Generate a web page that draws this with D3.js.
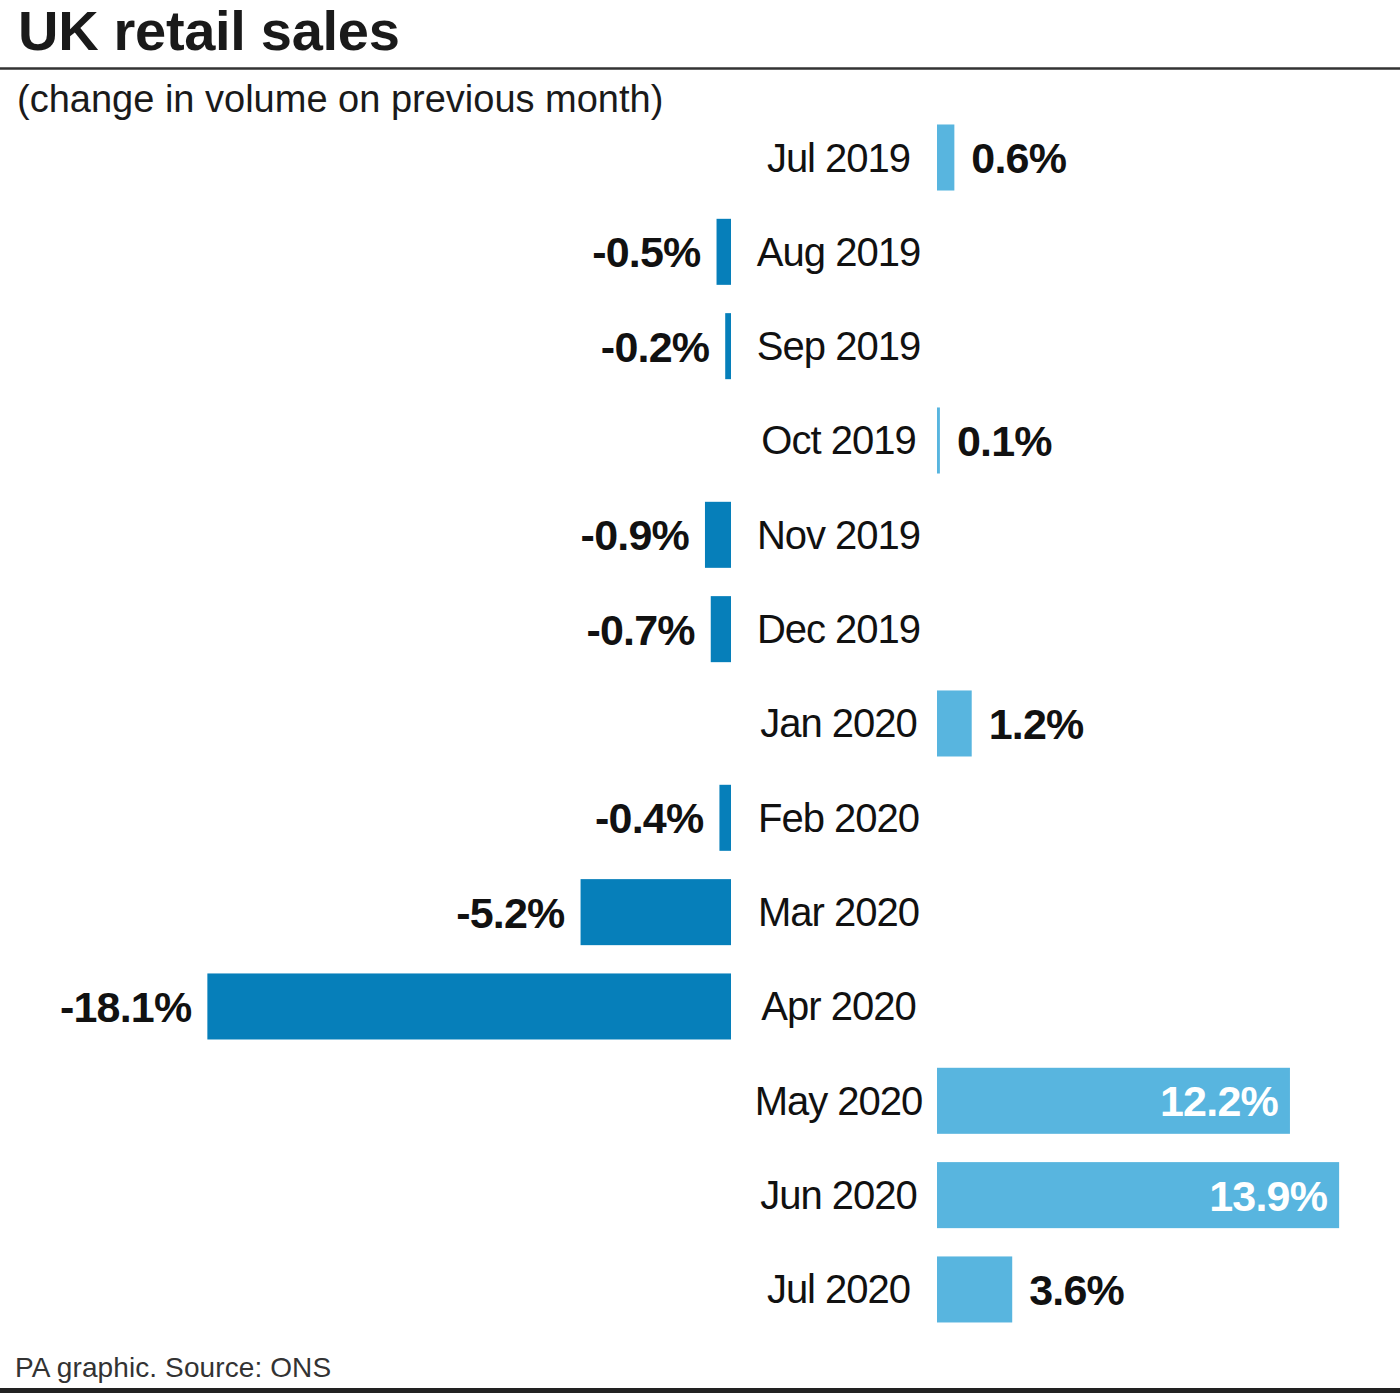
<!DOCTYPE html>
<html>
<head>
<meta charset="utf-8">
<script src="https://cdn.jsdelivr.net/npm/d3@7"></script>
<style>
  html, body { margin: 0; padding: 0; background: #fff; }
  svg { display: block; font-family: "Liberation Sans", Arial, Helvetica, sans-serif; }
</style>
</head>
<body>
<svg id="chart" width="1400" height="1393"></svg>
<script>
const title = "UK retail sales";
const subtitle = "(change in volume on previous month)";
const source = "PA graphic. Source: ONS";
const categories = ["Jul 2019","Aug 2019","Sep 2019","Oct 2019","Nov 2019","Dec 2019","Jan 2020","Feb 2020","Mar 2020","Apr 2020","May 2020","Jun 2020","Jul 2020"];
// bar lengths as drawn in the reference (Jul 2020 bar is drawn shorter than its label)
const values = [0.6, -0.5, -0.2, 0.1, -0.9, -0.7, 1.2, -0.4, -5.2, -18.1, 12.2, 13.9, 2.6];
// printed value labels
const valueLabels = ["0.6%","-0.5%","-0.2%","0.1%","-0.9%","-0.7%","1.2%","-0.4%","-5.2%","-18.1%","12.2%","13.9%","3.6%"];

const W = 1400, H = 1393;
const svg = d3.select("#chart");
const posColor = "#58b5df";
const negColor = "#067fba";

const pxPerUnit = 28.93;
const negZero = 731, posZero = 937;
const xNeg = d3.scaleLinear().domain([-20, 0]).range([negZero - 20 * pxPerUnit, negZero]);
const xPos = d3.scaleLinear().domain([0, 15]).range([posZero, posZero + 15 * pxPerUnit]);

const step = 94.33;
const y = d3.scaleBand()
  .domain(categories)
  .range([157.5 - step / 2, 157.5 - step / 2 + step * categories.length])
  .paddingInner(0.3)
  .paddingOuter(0.15);

// Title
svg.append("text").attr("x", 18).attr("y", 50)
  .attr("font-size", 56).attr("font-weight", "bold").attr("fill", "#1a1a1a")
  .attr("letter-spacing", -0.3)
  .text(title);
svg.append("line").attr("x1", 0).attr("x2", W).attr("y1", 68.5).attr("y2", 68.5)
  .attr("stroke", "#333").attr("stroke-width", 2.5);
svg.append("text").attr("x", 17).attr("y", 112)
  .attr("font-size", 38).attr("fill", "#1a1a1a")
  .text(subtitle);

const data = categories.map((c, i) => ({ cat: c, v: values[i], label: valueLabels[i] }));
const isInside = d => d.v > 0 && (xPos(d.v) - xPos(0)) > 250;

const g = svg.append("g");
// Bars
g.selectAll("rect.bar").data(data).enter().append("rect")
  .attr("class", "bar")
  .attr("x", d => d.v < 0 ? xNeg(d.v) : xPos(0))
  .attr("y", d => y(d.cat))
  .attr("width", d => d.v < 0 ? xNeg(0) - xNeg(d.v) : xPos(d.v) - xPos(0))
  .attr("height", y.bandwidth())
  .attr("fill", d => d.v < 0 ? negColor : posColor);

// Category labels
g.selectAll("text.cat").data(data).enter().append("text")
  .attr("class", "cat")
  .attr("x", 838.5)
  .attr("y", d => y(d.cat) + y.bandwidth() / 2)
  .attr("dy", "0.35em")
  .attr("text-anchor", "middle")
  .attr("font-size", 40)
  .attr("letter-spacing", -1)
  .attr("fill", "#111")
  .text(d => d.cat);

// Value labels
g.selectAll("text.val").data(data).enter().append("text")
  .attr("class", "val")
  .attr("x", d => {
    if (d.v < 0) return xNeg(d.v) - 16;
    return isInside(d) ? xPos(d.v) - 12 : xPos(d.v) + 17;
  })
  .attr("y", d => y(d.cat) + y.bandwidth() / 2)
  .attr("dy", "0.36em")
  .attr("text-anchor", d => (d.v < 0 || isInside(d)) ? "end" : "start")
  .attr("font-size", 43)
  .attr("font-weight", "bold")
  .attr("letter-spacing", -0.8)
  .attr("fill", d => isInside(d) ? "#fff" : "#111")
  .text(d => d.label);

// Footer
svg.append("text").attr("x", 15).attr("y", 1377)
  .attr("font-size", 28).attr("fill", "#333").attr("letter-spacing", 0.1)
  .text(source);
svg.append("rect").attr("x", 0).attr("y", 1388).attr("width", W).attr("height", 5)
  .attr("fill", "#222");
</script>
</body>
</html>
